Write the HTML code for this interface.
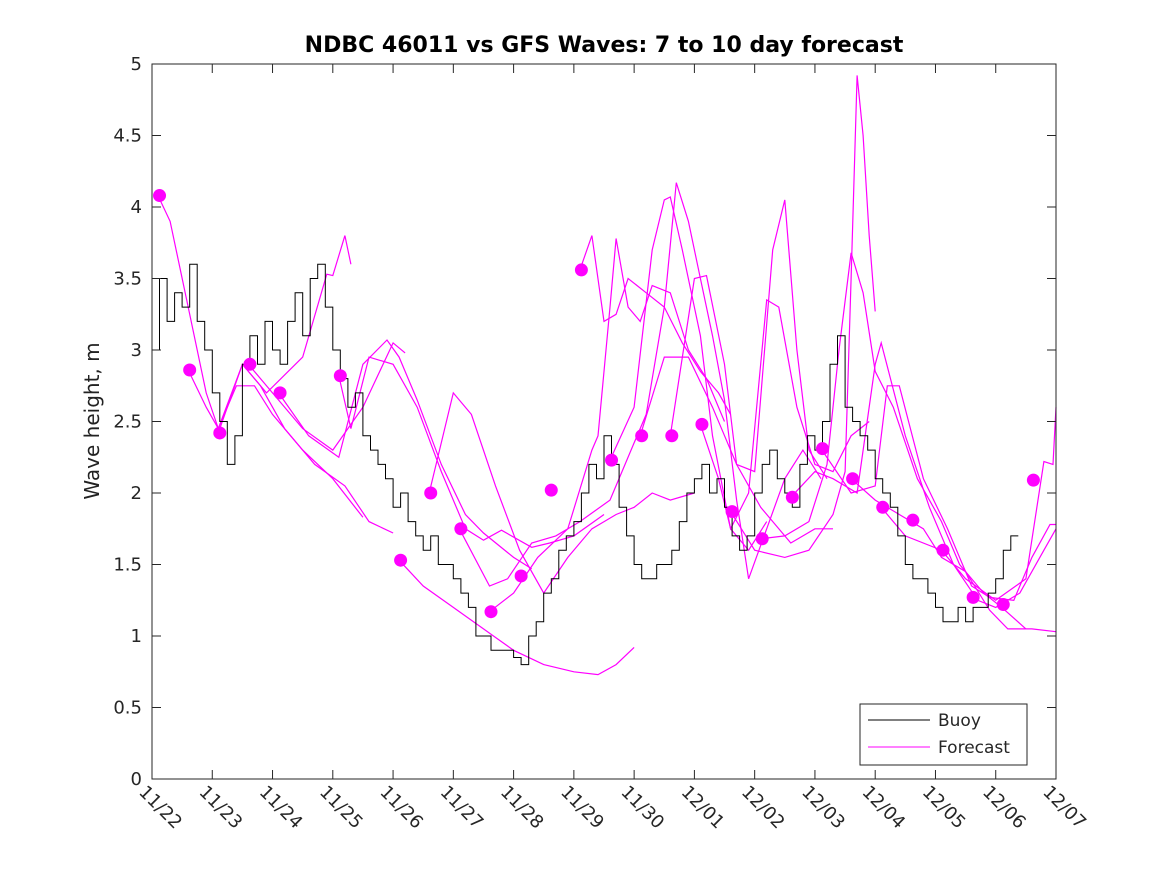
<!DOCTYPE html>
<html><head><meta charset="utf-8"><style>
html,body{margin:0;padding:0;background:#fff;}
svg{display:block;font-family:"DejaVu Sans","Liberation Sans",sans-serif;}
</style></head><body>
<svg id="chart" width="1167" height="875">
<rect x="0" y="0" width="1167" height="875" fill="#fff"/>
<text x="604" y="52" text-anchor="middle" font-size="22" font-weight="bold" fill="#000">NDBC 46011 vs GFS Waves: 7 to 10 day forecast</text>
<text transform="translate(99,421) rotate(-90)" text-anchor="middle" font-size="20" fill="#222">Wave height, m</text>
<g id="plot"></g>
</svg>
<script>
const yTicks=[0,0.5,1,1.5,2,2.5,3,3.5,4,4.5,5];
const yTickLabels=["0","0.5","1","1.5","2","2.5","3","3.5","4","4.5","5"];
const xTickLabels=["11/22","11/23","11/24","11/25","11/26","11/27","11/28","11/29","11/30","12/01","12/02","12/03","12/04","12/05","12/06","12/07"];
const buoy=[3.0,3.5,3.2,3.4,3.3,3.6,3.2,3.0,
2.7,2.5,2.2,2.4,2.9,3.1,2.9,3.2,
3.0,2.9,3.2,3.4,3.1,3.5,3.6,3.3,
3.0,2.8,2.6,2.7,2.4,2.3,2.2,2.1,
1.9,2.0,1.8,1.7,1.6,1.7,1.5,1.5,
1.4,1.3,1.2,1.0,1.0,0.9,0.9,0.9,
0.85,0.8,1.0,1.1,1.3,1.4,1.6,1.7,
1.8,2.0,2.2,2.1,2.4,2.2,1.9,1.7,
1.5,1.4,1.4,1.5,1.5,1.6,1.8,2.0,
2.1,2.2,2.0,2.1,1.9,1.7,1.6,1.7,
2.0,2.2,2.3,2.1,2.0,1.9,2.2,2.4,
2.3,2.5,2.9,3.1,2.6,2.5,2.4,2.3,
2.1,2.0,1.9,1.7,1.5,1.4,1.4,1.3,
1.2,1.1,1.1,1.2,1.1,1.2,1.2,1.3,
1.4,1.6,1.7];
const buoyStep=0.125;
const dotDays=[0.125,0.625,1.125,1.625,2.125,3.125,4.125,4.625,5.125,5.625,6.125,6.625,7.125,7.625,8.125,8.625,9.125,9.625,10.125,10.625,11.125,11.625,12.125,12.625,13.125,13.625,14.125,14.625];
const dotValues=[4.08,2.86,2.42,2.9,2.7,2.82,1.53,2.0,1.75,1.17,1.42,2.02,3.56,2.23,2.4,2.4,2.48,1.87,1.68,1.97,2.31,2.1,1.9,1.81,1.6,1.27,1.22,2.09];
const fcDays=[
[0.1,0.3,0.6,0.9,1.1,1.4,1.7,2.0,2.5,3.0,3.5],
[0.6,0.9,1.1,1.5,1.8,2.2,2.7,3.2,3.6,4.0],
[1.1,1.5,1.9,2.5,2.9,3.0,3.2,3.3],
[1.6,2.0,2.5,3.0,3.5,4.0,4.2],
[2.1,2.6,3.1,3.5,3.9,4.1,4.4,4.8,5.2,5.5,6.0,6.3],
[3.1,3.3,3.6,4.0,4.4,4.8,5.2,5.5,5.8,6.3,6.6,7.0,7.5],
[4.1,4.5,5.0,5.5,6.0,6.5,7.0,7.4,7.7,8.0],
[4.6,5.0,5.3,5.7,6.1,6.5,6.9,7.3,7.7,8.0,8.3,8.6,9.0],
[5.1,5.6,5.9,6.3,6.7,7.1,7.6,8.0,8.2,8.5,8.7,8.9,9.1,9.3,9.5,9.7,9.9,10.2,10.5,10.8,11.1],
[5.6,6.0,6.4,6.9,7.3,7.4,7.6,7.7,7.9,8.1,8.3,8.6,8.9,9.2,9.5],
[7.1,7.3,7.5,7.7,7.9,8.2,8.5,8.8,9.1,9.4,9.6],
[7.6,8.0,8.3,8.5,8.6,8.8,9.1,9.3,9.6,9.9,10.2],
[8.1,8.5,8.9,9.3,9.7,10.1,10.6,11.0,11.3],
[8.6,9.0,9.2,9.5,9.7,10.0,10.3,10.5,10.7,10.9,11.2],
[9.1,9.4,9.6,9.9,10.2,10.4,10.7,11.0,11.3,11.6,11.9],
[9.6,10.0,10.5,10.9,11.3,11.5,11.6,11.7,11.8,11.9,12.0],
[10.1,10.5,10.9,11.2,11.4,11.6,11.8,12.0,12.3,12.7,13.1,13.4,13.8,14.1,14.5],
[10.6,11.0,11.3,11.7,12.0,12.1,12.5,12.9,13.3,13.7,14.0,14.4,14.8,15.0],
[11.1,11.6,12.0,12.2,12.4,12.8,13.2,13.6,13.9,14.3,14.6,14.9,15.0],
[11.6,12.0,12.4,12.8,13.1,13.5,13.9,14.2,14.6,15.0],
[12.1,12.5,13.1,13.5,14.0,14.5,14.8,14.95,15.0]];
const fcValues=[
[4.08,3.9,3.3,2.7,2.45,2.75,2.75,2.55,2.3,2.1,1.83],
[2.86,2.6,2.45,2.9,2.75,2.45,2.2,2.05,1.8,1.72],
[2.42,2.9,2.7,2.95,3.53,3.52,3.8,3.6],
[2.9,2.7,2.45,2.3,2.6,3.05,2.98],
[2.7,2.4,2.25,2.9,3.07,2.95,2.65,2.2,1.85,1.72,1.55,1.47],
[2.82,2.45,2.95,2.9,2.6,2.15,1.75,1.67,1.74,1.62,1.65,1.7,1.85],
[1.53,1.35,1.2,1.05,0.9,0.8,0.75,0.73,0.8,0.92],
[2.0,2.7,2.55,2.05,1.6,1.3,1.55,1.75,1.85,1.9,2.0,1.95,2.0],
[1.75,1.35,1.4,1.65,1.7,1.8,1.95,2.35,2.55,3.3,4.17,3.9,3.5,3.1,2.65,1.95,1.4,1.75,2.1,2.3,2.1],
[1.17,1.3,1.55,1.75,2.3,2.4,3.3,3.78,3.3,3.2,3.45,3.4,3.0,2.8,2.5],
[3.56,3.8,3.2,3.25,3.5,3.4,3.3,3.05,2.85,2.7,2.55],
[2.23,2.6,3.7,4.05,4.07,3.7,3.1,2.4,1.75,1.6,1.8],
[2.4,2.95,2.95,2.6,2.2,1.9,1.65,1.75,1.75],
[2.4,3.5,3.52,2.9,2.2,2.15,3.7,4.05,3.0,2.3,2.1],
[2.48,2.1,1.75,2.0,3.35,3.3,2.6,2.2,2.15,2.4,2.5],
[1.87,1.6,1.55,1.6,1.85,2.15,3.5,4.92,4.5,3.8,3.27],
[1.68,1.7,1.8,2.2,3.0,3.68,3.4,2.85,2.6,2.1,1.8,1.5,1.3,1.2,1.05],
[1.97,2.15,2.1,2.0,2.9,3.05,2.4,1.9,1.5,1.25,1.2,1.3,1.6,1.75],
[2.31,2.0,2.05,2.75,2.75,2.1,1.75,1.35,1.27,1.25,1.55,1.78,1.78],
[2.1,1.95,1.85,1.75,1.55,1.45,1.18,1.05,1.05,1.03],
[1.9,1.7,1.6,1.4,1.25,1.4,2.22,2.2,2.6]];

const NS="http://www.w3.org/2000/svg";
const X0=152,X1=1056,Y0=779,Y1=64,DAYS=15,YMAX=5;
function sx(d){return X0+(X1-X0)*d/DAYS;}
function sy(v){return Y0-(Y0-Y1)*v/YMAX;}
const plot=document.getElementById('plot');
function mk(tag,attrs,parent){const e=document.createElementNS(NS,tag);for(const k in attrs)e.setAttribute(k,attrs[k]);(parent||plot).appendChild(e);return e;}

const bg=mk('rect',{x:X0,y:Y1,width:X1-X0,height:Y0-Y1,fill:'#fff',stroke:'none'});



fcDays.forEach((ds,i)=>{
  const pts=ds.map((d,j)=>sx(d).toFixed(1)+','+sy(fcValues[i][j]).toFixed(1)).join(' ');
  const l=mk('polyline',{points:pts,fill:'none',stroke:'#ff00ff','stroke-width':1.2});
  
  
});
let bp=[];
buoy.forEach((v,i)=>{bp.push(sx(i*buoyStep).toFixed(1)+','+sy(v).toFixed(1));bp.push(sx((i+1)*buoyStep).toFixed(1)+','+sy(v).toFixed(1));});
const bl=mk('polyline',{points:bp.join(' '),fill:'none',stroke:'#000','stroke-width':1});


dotDays.forEach((d,i)=>{
  const c=mk('circle',{cx:sx(d),cy:sy(dotValues[i]),r:6.5,fill:'#ff00ff'});
  
  
});
const fr=mk('rect',{x:X0,y:Y1,width:X1-X0,height:Y0-Y1,fill:'none',stroke:'#262626','stroke-width':1});


yTicks.forEach((v,i)=>{
  const y=sy(v);
  mk('line',{x1:X0,x2:X0+9,y1:y,y2:y,stroke:'#262626'});
  mk('line',{x1:X1,x2:X1-9,y1:y,y2:y,stroke:'#262626'});
  const t=mk('text',{x:X0-10,y:y+6,'text-anchor':'end','font-size':18,fill:'#262626'});
  t.textContent=yTickLabels[i];
  
  
});
xTickLabels.forEach((s,i)=>{
  const x=sx(i);
  mk('line',{x1:x,x2:x,y1:Y0,y2:Y0-9,stroke:'#262626'});
  mk('line',{x1:x,x2:x,y1:Y1,y2:Y1+9,stroke:'#262626'});
  const t=mk('text',{x:0,y:0,'font-size':18,fill:'#262626',transform:'translate('+(x-14)+','+(Y0+14)+') rotate(45)'});
  t.textContent=s;
  
  
});
const lg=mk('g',{});


mk('rect',{x:860,y:704,width:167,height:61,fill:'#fff',stroke:'#262626'},lg);
mk('line',{x1:868,x2:930,y1:720,y2:720,stroke:'#000'},lg);
mk('line',{x1:868,x2:930,y1:747,y2:747,stroke:'#ff00ff'},lg);
const t1=mk('text',{x:938,y:726,'font-size':17,fill:'#262626'},lg);t1.textContent='Buoy';


const t2=mk('text',{x:938,y:753,'font-size':17,fill:'#262626'},lg);t2.textContent='Forecast';


</script>
</body></html>
